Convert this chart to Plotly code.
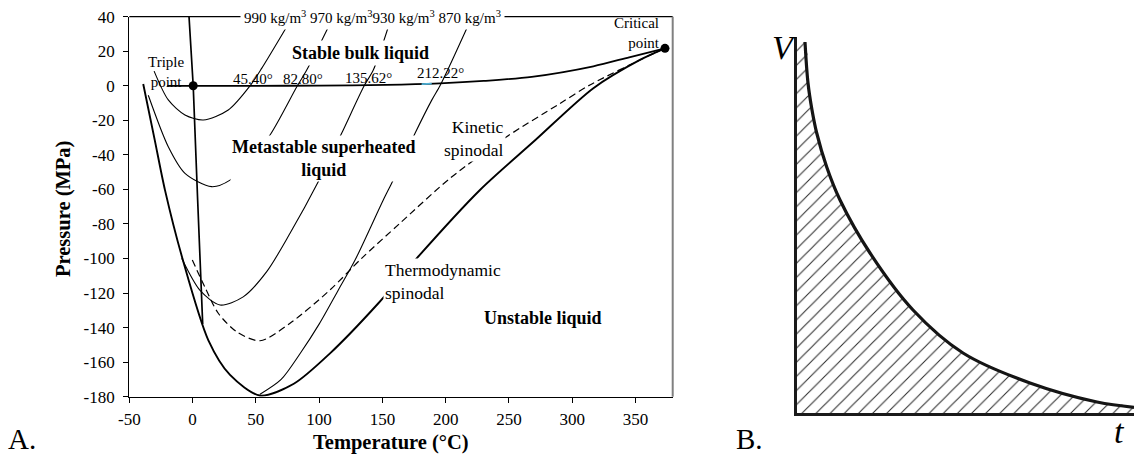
import plotly.graph_objects as go

W, H = 1134, 457
FONT = "Liberation Serif"

# ---------------- Panel A data (Temperature °C, Pressure MPa) ----------------
sat_T = [-20, 0.5, 50, 100, 153, 195.5, 230, 268, 316.7, 345, 373.3]
sat_P = [0, 0, 0, 0.1, 0.5, 1.4, 2.8, 5.2, 11.3, 16.5, 21.7]

melt_T = [-2.8, 0.5, 4.0, 7.2, 8.0]
melt_P = [40, 0, -66, -124, -138]

thermo_T = [-39, -30, -21.8, -8, 12.4, 29.6, 53.3, 80, 108.6, 146.8, 177.1, 227.1, 270, 316.7, 353.5, 373.3]
thermo_P = [1, -31, -60.4, -100, -147.2, -167.4, -179.3, -172.5, -154.9, -125.9, -99.9, -60.3, -32, -1.4, 15, 21.7]

kin_T = [-0.2, 10, 20.3, 35, 53.3, 77, 108.6, 133.6, 164, 203.4, 248.2, 290, 314, 358.8, 373.3]
kin_P = [-100.9, -117, -131.7, -142.5, -147.6, -137.5, -118.2, -99.9, -79.5, -53.6, -29.5, -10.4, 0.5, 16.8, 21.7]

iso990_T = [-30.4, -19.2, -6, 8.5, 28.2, 45.4, 54.6, 74.4]
iso990_P = [8.5, -8.2, -16.9, -19.8, -14, 0, 10.1, 34.2]

iso970_T = [-35, -19.2, -6, 15, 29.6, 45, 61.2, 82.8, 90.2, 107.4]
iso970_P = [-5.5, -35.3, -50.7, -58.4, -54.6, -43, -28.5, 0, 9.1, 34.2]

iso930_T = [-8.6, 5.9, 21.7, 40, 58.6, 77, 99.3, 117.8, 135.6, 142.8, 154.7]
iso930_P = [-99.9, -118.5, -126.9, -122.2, -107.6, -85.4, -55.5, -27.5, 0, 9.1, 34.2]

iso870_T = [53.3, 70, 85, 100, 115.2, 128.4, 150.7, 158.6, 175.8, 189, 195.5, 203.4, 217.9]
iso870_P = [-178.6, -170, -155, -138, -118.2, -100.9, -66.1, -54.5, -27.5, -8.3, 0, 12, 35.2]

cyan_T = [181, 189]
cyan_P = [1.0, 1.2]

points_T = [0.5, 373.3]
points_P = [0, 21.7]

x_ticks = [-50, 0, 50, 100, 150, 200, 250, 300, 350]
y_ticks = [-180, -160, -140, -120, -100, -80, -60, -40, -20, 0, 20, 40]

density_text = "990 kg/m<sup>3</sup> 970 kg/m<sup>3</sup>930 kg/m<sup>3</sup> 870 kg/m<sup>3</sup>"
crossing_labels = ["45.40°", "82.80°", "135.62°", "212.22°"]
crossing_label_T = [47.7, 87.3, 139.0, 196.3]
crossing_label_P = [3.9, 3.9, 4.8, 7.2]

# ---------------- Panel B data (schematic t, V in arbitrary units) ----------------
B_t = [8.3, 11.3, 15.3, 20.0, 30.0, 43.3, 73.3, 116.3, 166.3, 233.3, 300.3, 337.3]
B_V = [371.3, 330.3, 303.3, 280.3, 246.3, 213.3, 160.3, 103.3, 60.3, 30.3, 11.3, 6.0]
B_t_max = 337.3
B_V_max = 376.6

fig = go.Figure()

def line(x, y, width, dash="solid", color="black", shape="spline", smoothing=0.8):
    fig.add_trace(go.Scatter(x=x, y=y, mode="lines",
                             line=dict(color=color, width=width, dash=dash, shape=shape,
                                       smoothing=smoothing if shape == "spline" else None),
                             hoverinfo="skip", showlegend=False, xaxis="x", yaxis="y"))

line(iso990_T, iso990_P, 1.1)
line(iso970_T, iso970_P, 1.1)
line(iso930_T, iso930_P, 1.1)
line(iso870_T, iso870_P, 1.1)
line(kin_T, kin_P, 1.2, dash="7px,4px")
line(thermo_T, thermo_P, 1.9)
line(melt_T, melt_P, 1.7, shape="linear")
line(sat_T, sat_P, 1.8)
line(cyan_T, cyan_P, 1.8, color="#4fb3d9", shape="linear")
fig.add_trace(go.Scatter(x=points_T, y=points_P, mode="markers",
                         marker=dict(color="black", size=9), hoverinfo="skip",
                         showlegend=False, xaxis="x", yaxis="y"))

# ---- Panel B traces ----
poly_t = [0, 0] + B_t + [B_t[-1]]
poly_V = [0, B_V[0]] + B_V + [0]
fig.add_trace(go.Scatter(x=poly_t, y=poly_V, mode="lines", fill="toself",
                         line=dict(width=0, color="rgba(0,0,0,0)", shape="spline", smoothing=1.0),
                         fillcolor="white",
                         fillpattern=dict(shape="/", size=10, solidity=0.1,
                                          fgcolor="#2a2a2a", bgcolor="white", fillmode="replace"),
                         hoverinfo="skip", showlegend=False, xaxis="x2", yaxis="y2"))
fig.add_trace(go.Scatter(x=B_t, y=B_V, mode="lines",
                         line=dict(color="#151515", width=3.2, shape="spline", smoothing=1.0),
                         hoverinfo="skip", showlegend=False, xaxis="x2", yaxis="y2"))

annotations = []

def ann(text, x, y, size, bold=False, bg=None, xanchor="center", align="center",
        xref="x", yref="y", italic=False, textangle=0, borderpad=1, yanchor="middle"):
    t = text
    if bold:
        t = "<b>" + t + "</b>"
    if italic:
        t = "<i>" + t + "</i>"
    d = dict(text=t, x=x, y=y, xref=xref, yref=yref, showarrow=False,
             font=dict(family=FONT, size=size, color="black"),
             xanchor=xanchor, yanchor=yanchor, align=align, textangle=textangle,
             borderpad=borderpad)
    if bg:
        d["bgcolor"] = bg
    annotations.append(d)

ann(density_text, 142.1, 40, 15, bg="white", borderpad=3)
for txt, xt, yt in zip(crossing_labels, crossing_label_T, crossing_label_P):
    ann(txt, xt, yt, 15)

ann("Stable bulk liquid", 132.3, 19.2, 18, bold=True, bg="white", borderpad=2)
ann("Metastable superheated<br>liquid", 103.3, -42.0, 18, bold=True, bg="white", borderpad=1)
ann("Unstable liquid", 277.1, -134.6, 18, bold=True)
ann("Kinetic<br>spinodal", 247.7, -30.4, 17.5, bg="white", xanchor="right", align="right")
ann("Thermodynamic<br>spinodal", 150.2, -113.4, 17.5, bg="white", xanchor="left", align="left")
ann("Critical<br>point", 370.9, 30.3, 15, xanchor="right", align="right")
ann("Triple<br>point", -21.0, 8.0, 15)

ann("Pressure (MPa)", 63 / W, 1 - 209 / H, 20.5, bold=True, xref="paper", yref="paper", textangle=-90)
ann("Temperature (°C)", 391 / W, 1 - 442 / H, 20.5, bold=True, xref="paper", yref="paper")
ann("A.", 22 / W, 1 - 439 / H, 29, xref="paper", yref="paper")
ann("B.", 749 / W, 1 - 439 / H, 29, xref="paper", yref="paper")
ann("V", 784 / W, 1 - 47.5 / H, 34, italic=True, xref="paper", yref="paper")
ann("t", 1119 / W, 1 - 431.5 / H, 34, italic=True, xref="paper", yref="paper")

shapes = [
    dict(type="line", xref="x domain", yref="y domain", x0=0, x1=1, y0=1, y1=1,
         line=dict(color="black", width=1.3), layer="above"),
    dict(type="line", xref="x domain", yref="y domain", x0=1, x1=1, y0=0, y1=1,
         line=dict(color="#808080", width=2), layer="above"),
]

tickfont = dict(family=FONT, size=17, color="black")
fig.update_layout(
    width=W, height=H,
    margin=dict(l=0, r=0, t=0, b=0),
    paper_bgcolor="white", plot_bgcolor="white",
    showlegend=False,
    annotations=annotations,
    shapes=shapes,
    xaxis=dict(domain=[129.3 / W, 672.7 / W], range=[-50, 379.4], anchor="y",
               tickmode="array", tickvals=x_ticks, ticktext=[str(v) for v in x_ticks],
               ticks="outside", ticklen=5, tickwidth=1, tickcolor="black",
               showline=True, linecolor="black", linewidth=1.3, ticklabelstandoff=2,
               showgrid=False, zeroline=False, tickfont=tickfont, automargin=False),
    yaxis=dict(domain=[1 - 396.7 / H, 1 - 16.7 / H], range=[-180, 40], anchor="x",
               tickmode="array", tickvals=y_ticks, ticktext=[str(v) for v in y_ticks],
               ticks="outside", ticklen=5, tickwidth=1, tickcolor="black",
               showline=True, linecolor="black", linewidth=1.3, ticklabelstandoff=5,
               showgrid=False, zeroline=False, tickfont=tickfont, automargin=False),
    xaxis2=dict(domain=[796.7 / W, 1.0], range=[0, B_t_max], anchor="y2",
                showline=True, linecolor="#1a1a1a", linewidth=2.6,
                showticklabels=False, ticks="", showgrid=False, zeroline=False, automargin=False),
    yaxis2=dict(domain=[1 - 413.3 / H, 1 - 36.7 / H], range=[0, B_V_max], anchor="x2",
                showline=True, linecolor="#1a1a1a", linewidth=2.6,
                showticklabels=False, ticks="", showgrid=False, zeroline=False, automargin=False),
)

fig.write_html("out.html", config={"displayModeBar": False},
               post_script="document.body.style.margin='0px';")
